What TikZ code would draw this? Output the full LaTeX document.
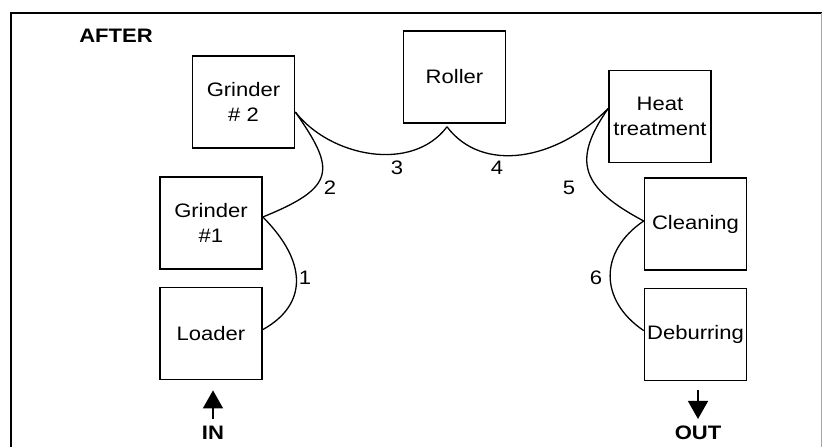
\documentclass[tikz,border=0pt]{standalone}
\usepackage{fontspec}
\setmainfont{Liberation Sans}[FakeStretch=1.13]
\usetikzlibrary{positioning,arrows.meta}

\tikzset{
  station/.style={draw,minimum width=102pt,minimum height=92pt,align=center,inner sep=1pt},
  move/.style={line width=1.3pt},
  flow/.style={line width=1.5pt,-{Triangle[width=20pt,length=18pt]}}
}

\begin{document}
\begin{tikzpicture}[x=1pt,y=1pt,line width=1.6pt,font=\fontsize{19.5}{25}\selectfont]

\useasboundingbox (0,0) rectangle (822,447);
\draw (11,0) -- (11,434) -- (822,434);
\draw[black!35,line width=0.6pt] (821,434) -- (821,0);

\node (after) at (116,411) {\bfseries AFTER};

\node[station] (g2) at (243.5,345) {Grinder\\\# 2};
\node[station] (g1) at (211,224) {Grinder\\\#1};
\node[station,below=17pt of g1] (ld) {Loader};
\node[station] (rl) at (454.5,370) {Roller};
\node[station] (ht) at (660,330.5) {Heat\\treatment};
\node[station] (cl) at (695.5,223) {Cleaning};
\node[station,below=17pt of cl] (db) {Deburring};

\coordinate (g2out) at ([yshift=-10pt]g2.east);
\coordinate (g1in) at ([yshift=6pt]g1.east);
\coordinate (ldin) at ([yshift=4pt]ld.east);
\coordinate (rlin) at ([shift={(-7.5pt,-3pt)}]rl.south);
\coordinate (htin) at ([yshift=8pt]ht.west);
\coordinate (clin) at ([yshift=3pt]cl.west);
\coordinate (dbin) at ([yshift=4pt]db.west);

\draw[move] (ldin) to[out=29,in=-45,out distance=51pt,in distance=64pt] (g1in);
\draw[move] (g1in) to[out=22,in=-55,out distance=80pt,in distance=70pt] (g2out);
\draw[move] (g2out) to[out=-52,in=233,out distance=57pt,in distance=58pt] (rlin);
\draw[move] (rlin) to[out=-53,in=225,out distance=58pt,in distance=75pt] (htin);
\draw[move] (htin) to[out=235,in=152,out distance=65pt,in distance=70pt] (clin);
\draw[move] (clin) to[out=214,in=146,out distance=54pt,in distance=54pt] (dbin);

\node (n1) at (305,169) {1};
\node (n2) at (330,259) {2};
\node (n3) at (397,279) {3};
\node (n4) at (497,279) {4};
\node (n5) at (569,259) {5};
\node (n6) at (596,169) {6};

\node (in) at (213,14) {\bfseries IN};
\node (out) at (698,14) {\bfseries OUT};
\draw[flow] ([yshift=3pt]in.north) -- ([yshift=-10pt]in.north |- ld.south);
\draw[flow] ([yshift=-9pt]out.north |- db.south) -- ([yshift=3pt]out.north);

\end{tikzpicture}
\end{document}
